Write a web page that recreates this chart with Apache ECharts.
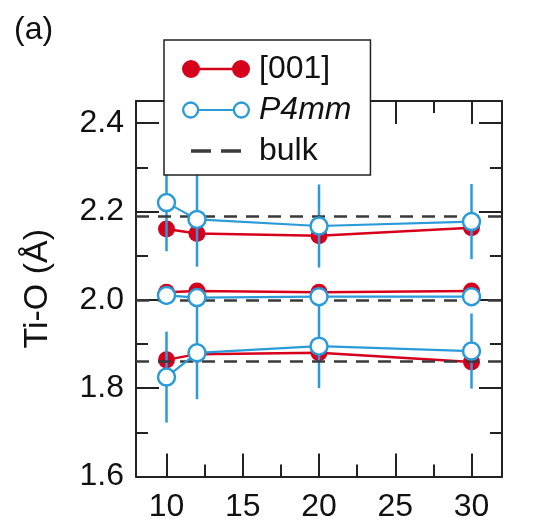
<!DOCTYPE html>
<html><head><meta charset="utf-8">
<script src="https://cdn.jsdelivr.net/npm/echarts@6/dist/echarts.min.js"></script>
<style>html,body{margin:0;padding:0;background:#fff}#c{width:538px;height:526px}</style>
</head><body><div id="c"></div>
<script>
// ---- data ----
const xValues = [10, 12, 20, 30];
const s001Long = [2.160, 2.150, 2.145, 2.163];
const s001Mid = [2.017, 2.020, 2.017, 2.020];
const s001Short = [1.864, 1.877, 1.880, 1.859];
const p4mmLong = [2.220, 2.182, 2.167, 2.177];
const p4mmMid = [2.010, 2.005, 2.007, 2.007];
const p4mmShort = [1.825, 1.880, 1.895, 1.884];
const p4mmLongErr = [0.110, 0.107, 0.094, 0.085];
const p4mmMidErr = [0, 0, 0, 0];
const p4mmShortErr = [0.103, 0.105, 0.095, 0.085];
const bulkValues = [2.188, 2.000, 1.857];
const xTickLabels = [10, 15, 20, 25, 30];
const yTickLabels = [1.6, 1.8, 2.0, 2.2, 2.4];

const RED = '#d6001c', BLUE = '#2a9bd8', DARK = '#222', DASH = '#3a3a3a';
const FONT = 'Liberation Sans, Arial, Helvetica, sans-serif';

const pairs = (ys) => xValues.map((x, i) => [x, ys[i]]);
const errPairs = (ys, es) => xValues.map((x, i) => [x, ys[i] - es[i], ys[i] + es[i]]);

const iconRed = 'path://M0,9A9,9 0 1,1 18,9A9,9 0 1,1 0,9Z M50,9A9,9 0 1,1 68,9A9,9 0 1,1 50,9Z M15,7.75L53,7.75L53,10.25L15,10.25Z';
const iconBlue = 'path://M0.5,9A8.5,8.5 0 1,1 17.5,9A8.5,8.5 0 1,1 0.5,9Z M2.8,9A6.2,6.2 0 1,0 15.2,9A6.2,6.2 0 1,0 2.8,9Z M50.5,9A8.5,8.5 0 1,1 67.5,9A8.5,8.5 0 1,1 50.5,9Z M52.8,9A6.2,6.2 0 1,0 65.2,9A6.2,6.2 0 1,0 52.8,9Z M17.4,8L50.6,8L50.6,10L17.4,10Z';
const iconBulk = 'path://M0,0L0.01,0L0.01,0.01Z M9,7.25L29,7.25L29,10.75L9,10.75Z M39,7.25L59,7.25L59,10.75L39,10.75Z M67.99,17.99L68,17.99L68,18Z';

const axisCommon = {
  axisLine: { show: true, onZero: false, lineStyle: { color: DARK, width: 2 } },
  axisTick: { show: true, inside: true, length: 23, lineStyle: { color: DARK, width: 2 } },
  minorTick: { show: true, splitNumber: 2, length: 12, lineStyle: { color: DARK, width: 2 } },
  splitLine: { show: false },
  minorSplitLine: { show: false }
};

const redLine = (ys) => ({
  name: '[001]', type: 'line', data: pairs(ys), z: 3,
  symbol: 'circle', symbolSize: 17,
  itemStyle: { color: RED },
  lineStyle: { color: RED, width: 2.5 }
});
const blueLine = (ys) => ({
  name: 'P4mm', type: 'line', data: pairs(ys), z: 5,
  symbol: 'circle', symbolSize: 17,
  itemStyle: { color: '#fff', borderColor: BLUE, borderWidth: 2.5 },
  lineStyle: { color: BLUE, width: 2.2 }
});
const errBars = (ys, es) => ({
  name: 'P4mm error', type: 'custom', z: 4,
  data: errPairs(ys, es),
  encode: { x: 0, y: [1, 2] },
  renderItem: (params, api) => {
    const x = api.value(0);
    const p1 = api.coord([x, api.value(1)]);
    const p2 = api.coord([x, api.value(2)]);
    return { type: 'line', shape: { x1: p1[0], y1: p1[1], x2: p2[0], y2: p2[1] },
             style: { stroke: BLUE, lineWidth: 2.5 } };
  }
});

const chart = echarts.init(document.getElementById('c'), null, { renderer: 'canvas' });
chart.setOption({
  animation: false,
  backgroundColor: '#fff',
  textStyle: { fontFamily: FONT },
  grid: { left: 136, right: 36, top: 101, bottom: 49.5, containLabel: false },
  graphic: [{ type: 'text', left: 14, top: 14, z: 20,
    style: { text: '(a)', fontSize: 32, fontFamily: FONT, fill: '#111' } }],
  legend: {
    orient: 'vertical', left: 164, top: 40, z: 20,
    padding: [13, 19, 8, 18],
    itemWidth: 68, itemHeight: 18, itemGap: 9,
    backgroundColor: '#fff', borderColor: DARK, borderWidth: 1.5, borderRadius: 0,
    selectedMode: false,
    textStyle: { fontSize: 32, color: '#111', fontFamily: FONT, padding: [0, 0, 0, 4],
      rich: { i: { fontStyle: 'italic', fontSize: 32, color: '#111', fontFamily: FONT } } },
    formatter: (name) => name === 'P4mm' ? '{i|P4mm}' : name,
    data: [
      { name: '[001]', icon: iconRed, itemStyle: { color: RED, borderWidth: 0 } },
      { name: 'P4mm', icon: iconBlue, itemStyle: { color: BLUE, borderWidth: 0 } },
      { name: 'bulk', icon: iconBulk, itemStyle: { color: DASH, borderWidth: 0 } }
    ]
  },
  xAxis: [
    Object.assign({ type: 'value', position: 'bottom', min: 8, max: 32, splitNumber: 5,
      axisLabel: { show: true, fontSize: 32, color: '#111', fontFamily: FONT, margin: 15,
        showMinLabel: false, showMaxLabel: false,
        formatter: (v) => xTickLabels.includes(v) ? String(v) : '' } }, axisCommon),
    Object.assign({ type: 'value', position: 'top', min: 8, max: 32, splitNumber: 5,
      axisLabel: { show: false } }, axisCommon)
  ],
  yAxis: [
    Object.assign({ type: 'value', position: 'left', min: 1.6, max: 2.45, interval: 0.2,
      name: 'Ti-O (Å)', nameLocation: 'middle', nameGap: 81,
      nameTextStyle: { fontSize: 34, color: '#111', fontFamily: FONT },
      axisLabel: { show: true, fontSize: 32, color: '#111', fontFamily: FONT, margin: 12,
        showMaxLabel: false,
        formatter: (v) => yTickLabels.some(t => Math.abs(t - v) < 1e-6) ? v.toFixed(1) : '' } }, axisCommon),
    Object.assign({ type: 'value', position: 'right', min: 1.6, max: 2.45, interval: 0.2,
      axisLabel: { show: false } }, axisCommon)
  ],
  series: [
    { name: 'bulk', type: 'line', data: [], z: 2, symbol: 'none',
      itemStyle: { color: DASH }, lineStyle: { color: DASH, width: 2.5, type: [13, 9] },
      markLine: { silent: true, symbol: 'none', label: { show: false },
        lineStyle: { color: DASH, width: 2.5, type: [13, 9] },
        data: bulkValues.map(v => ({ yAxis: v })) } },
    redLine(s001Long), redLine(s001Mid), redLine(s001Short),
    errBars(p4mmLong, p4mmLongErr), errBars(p4mmMid, p4mmMidErr), errBars(p4mmShort, p4mmShortErr),
    blueLine(p4mmLong), blueLine(p4mmMid), blueLine(p4mmShort)
  ]
});
</script></body></html>
